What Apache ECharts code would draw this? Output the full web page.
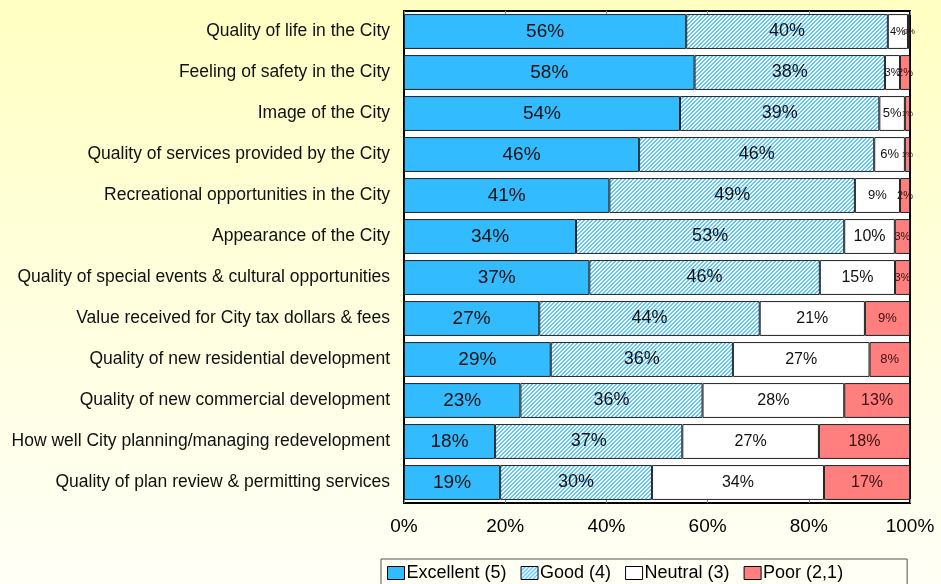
<!DOCTYPE html>
<html>
<head>
<meta charset="utf-8">
<script src="https://cdn.jsdelivr.net/npm/echarts@6/dist/echarts.min.js"></script>
<style>
  html, body { margin: 0; padding: 0; }
  body {
    width: 941px; height: 584px;
    background: linear-gradient(to bottom, #ffffc2 0%, #ffffe0 55%, #fffff6 100%);
  }
  #chart { width: 941px; height: 584px; }
</style>
</head>
<body>
<div id="chart"></div>
<script>
const categories = [
  'Quality of life in the City',
  'Feeling of safety in the City',
  'Image of the City',
  'Quality of services provided by the City',
  'Recreational opportunities in the City',
  'Appearance of the City',
  'Quality of special events & cultural opportunities',
  'Value received for City tax dollars & fees',
  'Quality of new residential development',
  'Quality of new commercial development',
  'How well City planning/managing redevelopment',
  'Quality of plan review & permitting services'
]
const excellent = [56, 58, 54, 46, 41, 34, 37, 27, 29, 23, 18, 19]
const good = [40, 38, 39, 46, 49, 53, 46, 44, 36, 36, 37, 30]
const neutral = [4, 3, 5, 6, 9, 10, 15, 21, 27, 28, 27, 34]
const poor = [0.4, 2, 1, 1, 2, 3, 3, 9, 8, 13, 18, 17]
const xTicks = ['0%', '20%', '40%', '60%', '80%', '100%']
const seriesNames = ['Excellent (5)', 'Good (4)', 'Neutral (3)', 'Poor (2,1)']

// hatch pattern for "Good"
const hatch = document.createElement('canvas')
hatch.width = 4
hatch.height = 4
const ctx = hatch.getContext('2d')
ctx.fillStyle = '#ffffff'
ctx.fillRect(0, 0, 4, 4)
ctx.fillStyle = '#5ccaff'
for (let i = 0; i < 4; i++) {
  ctx.fillRect(i, 3 - i, 1, 1)
  ctx.fillRect(i, (4 - i) % 4, 1, 1)
}

const rowSum = categories.map((c, i) => excellent[i] + good[i] + neutral[i] + poor[i])

function sizeFor(v) {
  if (v < 2) return 8
  if (v < 5) return 11
  if (v < 10) return 13
  return 16
}

function buildData(arr, bigSize, fixed) {
  return arr.map((v, i) => ({
    value: v / rowSum[i] * 100,
    raw: v,
    label: { fontSize: fixed ? bigSize : (v >= 30 ? bigSize : sizeFor(v)) }
  }))
}

const fills = ['#33bbff', { image: hatch, repeat: 'repeat' }, '#ffffff', '#ff7f7f']
const datas = [
  buildData(excellent, 19, true),
  buildData(good, 18, true),
  buildData(neutral, 16, false),
  buildData(poor, 13, false)
]

const chart = echarts.init(document.getElementById('chart'))
chart.setOption({
  backgroundColor: 'transparent',
  textStyle: { fontFamily: 'Liberation Sans, Arial, sans-serif' },
  animation: false,
  grid: {
    left: 404, right: 31, top: 11, bottom: 81,
    show: true, backgroundColor: '#ffffff', borderColor: '#000', borderWidth: 2
  },
  legend: {
    bottom: -6,
    left: 381,
    padding: [5, 64, 8, 6],
    itemGap: 14,
    itemWidth: 17,
    itemHeight: 13,
    icon: 'rect',
    borderColor: '#555',
    borderWidth: 1,
    backgroundColor: 'transparent',
    textStyle: { fontSize: 18, color: '#000', padding: [0, 0, 0, -3] },
    data: seriesNames.map((n, i) => ({
      name: n,
      itemStyle: { color: fills[i], borderColor: '#000', borderWidth: 1 }
    }))
  },
  xAxis: [{
    type: 'value', min: 0, max: 100, interval: 20,
    axisLine: { show: false },
    axisTick: { show: true, inside: true, length: 4, lineStyle: { color: '#888' } },
    splitLine: { show: false },
    axisLabel: {
      fontSize: 19, color: '#000', margin: 14,
      formatter: (v) => xTicks[Math.round(v / 20)]
    }
  }, {
    type: 'value', position: 'top', min: 0, max: 100, interval: 20,
    axisLine: { show: false },
    axisTick: { show: true, inside: true, length: 4, lineStyle: { color: '#888' } },
    splitLine: { show: false },
    axisLabel: { show: false }
  }],
  yAxis: {
    type: 'category', inverse: true, data: categories,
    axisLine: { show: false }, axisTick: { show: false },
    axisLabel: { fontSize: 17.5, color: '#111', margin: 14 }
  },
  series: seriesNames.map((n, i) => ({
    name: n,
    type: 'bar',
    stack: 'all',
    barCategoryGap: '15%',
    data: datas[i],
    itemStyle: { color: fills[i], borderColor: '#222', borderWidth: 1 },
    label: {
      show: true,
      position: 'inside',
      color: i === 3 ? '#3a1010' : '#111',
      formatter: (p) => Math.round(p.data.raw) + '%'
    }
  }))
})
</script>
</body>
</html>
